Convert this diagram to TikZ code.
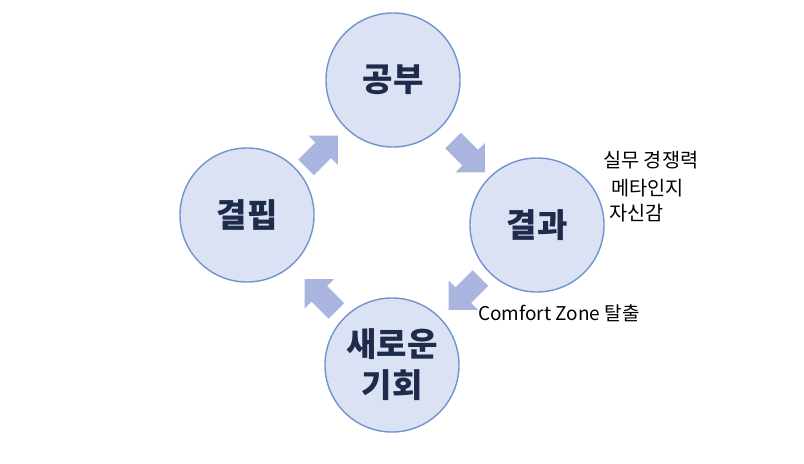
\documentclass[tikz,border=0pt]{standalone}
\usepackage{fontspec}
\newfontfamily\kr{Noto Sans CJK KR}
\usepackage{tikz}
\usetikzlibrary{shapes.arrows}
\usetikzlibrary{calc}
\definecolor{circfill}{HTML}{DAE2F3}
\definecolor{circline}{HTML}{7194CF}
\definecolor{arrowfill}{HTML}{A9B5DE}
\definecolor{textnavy}{HTML}{1F2B4B}

\begin{document}
\begin{tikzpicture}[x=0.025cm, y=0.025cm,
    stage/.style={circle, draw=circline, fill=circfill, line width=1pt, minimum size=3.35cm, inner sep=0pt, text=textnavy, align=center, font=\kr\bfseries\fontsize{23.5}{29}\selectfont},
    flow/.style={single arrow, fill=arrowfill, draw=none, minimum height=1.12cm, inner xsep=0pt, inner ysep=0.27cm, single arrow head extend=0.24cm},
    note/.style={anchor=west, inner sep=0pt, font=\kr\fontsize{14}{17}\selectfont}]
    \useasboundingbox (0,0) rectangle (804,463);

    % the four stages
    \node[stage] (study) at (393, 383) {공부};
    \node[stage] (result) at (537, 238) {결과};
    \node[stage] (chance) at (392, 98) {새로운\\기회};
    \node[stage] (lack) at (247, 248) {결핍};

    % block arrows between stages
    \node[flow, rotate=-45] (a1) at ($(study)!0.5!(result)$) {};
    \node[flow, rotate=-135] (a2) at ($(result)!0.5!(chance) + (4,5)$) {};
    \node[flow, rotate=135] (a3) at ($(chance)!0.5!(lack) + (5,-9)$) {};
    \node[flow, rotate=45] (a4) at ($(lack)!0.5!(study) + (-2,-8)$) {};

    % notes
    \node[note] (n1) at (603, 303) {실무 경쟁력};
    \node[note] (n2) at (611, 275) {메타인지};
    \node[note] (n3) at (609, 250) {자신감};
    \node[note, font=\kr\fontsize{13.5}{16}\selectfont] (n4) at (478, 150) {Comfort Zone 탈출};
\end{tikzpicture}
\end{document}
